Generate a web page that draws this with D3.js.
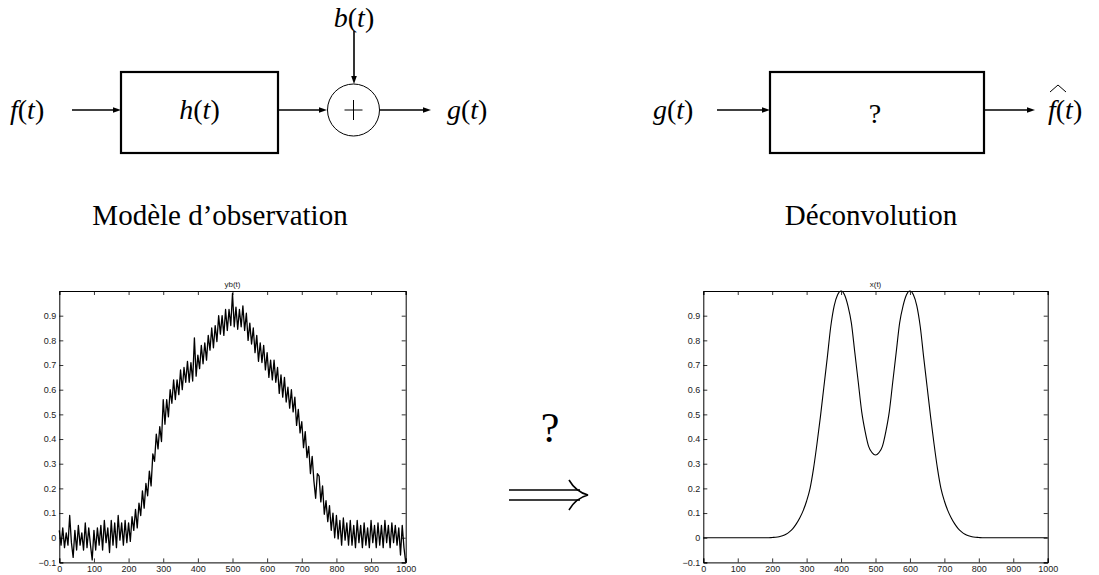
<!DOCTYPE html>
<html lang="fr">
<head>
<meta charset="UTF-8">
<title>Déconvolution</title>
<script src="https://d3js.org/d3.v7.min.js"></script>
<style>
  body { margin: 0; background: #fff; }
  .math { font-family: "Liberation Serif", "Times New Roman", serif; }
  .tick text { font-family: "Liberation Sans", Arial, sans-serif; font-size: 9px; fill: #222; }
</style>
</head>
<body>
<svg width="1099" height="575"></svg>
<script>
// ---------- data ----------
// noisy observation yb(t), one sample every 5 points of t (0..1000)
const ybStep = 5;
const ybValues = [
  0.03, -0.03, 0.04, -0.04, 0.02, -0.03, 0.09, -0.02, -0.08, 0.03,
  -0.05, 0.05, -0.03, 0.02, -0.05, 0.06, -0.04, 0.04, -0.03, -0.09,
  0.03, -0.05, 0.04, -0.03, 0.05, -0.05, 0.07, -0.02, 0.04, -0.06,
  0.07, -0.03, 0.06, -0.04, 0.09, -0.01, 0.06, -0.03, 0.07, -0.02,
  0.06, -0.015, 0.085, 0.03, 0.115, 0.04, 0.14, 0.09, 0.19, 0.12,
  0.22, 0.17, 0.27, 0.21, 0.34, 0.31, 0.42, 0.36, 0.45, 0.39,
  0.56, 0.46, 0.56, 0.49, 0.60, 0.545, 0.64, 0.56, 0.64, 0.58,
  0.68, 0.60, 0.69, 0.63, 0.715, 0.63, 0.71, 0.635, 0.81, 0.655,
  0.74, 0.685, 0.78, 0.705, 0.79, 0.72, 0.82, 0.76, 0.85, 0.77,
  0.86, 0.795, 0.90, 0.825, 0.90, 0.82, 0.925, 0.84, 0.925, 0.86,
  0.99, 0.855, 0.935, 0.845, 0.925, 0.855, 0.94, 0.84, 0.91, 0.80,
  0.87, 0.785, 0.85, 0.75, 0.82, 0.715, 0.79, 0.71, 0.78, 0.68,
  0.75, 0.65, 0.72, 0.64, 0.72, 0.63, 0.69, 0.585, 0.66, 0.57,
  0.65, 0.55, 0.61, 0.525, 0.60, 0.51, 0.57, 0.455, 0.52, 0.425,
  0.47, 0.365, 0.43, 0.325, 0.37, 0.26, 0.33, 0.23, 0.16, 0.26,
  0.25, 0.145, 0.21, 0.095, 0.15, 0.065, 0.13, 0.03, 0.10, 0.00,
  0.09, -0.005, 0.07, -0.03, 0.08, -0.01, 0.06, -0.03, 0.07, -0.03,
  0.05, -0.04, 0.07, -0.02, 0.05, -0.04, 0.06, -0.03, 0.04, -0.04,
  0.07, -0.02, 0.05, -0.04, 0.06, -0.03, 0.05, -0.04, 0.07, -0.02,
  0.05, -0.04, 0.06, -0.02, 0.05, -0.03, 0.04, -0.07, 0.05, -0.04,
  -0.10
];

// original signal x(t), one sample every 10 points of t
const xStep = 10;
const xValues = [
  0, 0, 0, 0, 0, 0, 0, 0, 0, 0,
  0, 0, 0, 0, 0, 0, 0, 0, 0, 0,
  0.001, 0.002, 0.004, 0.008, 0.014, 0.024, 0.037, 0.056, 0.080, 0.110,
  0.149, 0.200, 0.280, 0.380, 0.490, 0.610, 0.730, 0.855, 0.940, 0.985,
  1.000, 0.985, 0.940, 0.870, 0.750, 0.630, 0.510, 0.430, 0.370, 0.345,
  0.335, 0.345, 0.370, 0.430, 0.510, 0.630, 0.750, 0.870, 0.940, 0.985,
  1.000, 0.985, 0.940, 0.855, 0.730, 0.610, 0.490, 0.380, 0.280, 0.200,
  0.149, 0.110, 0.080, 0.056, 0.037, 0.024, 0.014, 0.008, 0.004, 0.002,
  0.001, 0, 0, 0, 0, 0, 0, 0, 0, 0,
  0, 0, 0, 0, 0, 0, 0, 0, 0, 0,
  0
];

const xTicks = [0, 100, 200, 300, 400, 500, 600, 700, 800, 900, 1000];
const yTicks = [-0.1, 0, 0.1, 0.2, 0.3, 0.4, 0.5, 0.6, 0.7, 0.8, 0.9];
const yDomain = [-0.1, 1.0];

// ---------- drawing ----------
const svg = d3.select("svg");

function arrow(x1, y1, x2, y2) {
  const a = Math.atan2(y2 - y1, x2 - x1), L = 8, W = 2.8;
  const bx = x2 - L * Math.cos(a), by = y2 - L * Math.sin(a);
  svg.append("line")
    .attr("x1", x1).attr("y1", y1).attr("x2", bx).attr("y2", by)
    .attr("stroke", "#000").attr("stroke-width", 1.6);
  svg.append("path")
    .attr("d", `M${x2},${y2}L${bx - W * Math.sin(a)},${by + W * Math.cos(a)}L${bx + W * Math.sin(a)},${by - W * Math.cos(a)}Z`)
    .attr("fill", "#000");
}

// math-ish label: italic letter + (t)
function fn(x, y, letter, anchor) {
  const t = svg.append("text").attr("class", "math")
    .attr("x", x).attr("y", y).attr("font-size", 28)
    .attr("text-anchor", anchor || "start");
  t.append("tspan").attr("font-style", "italic").text(letter);
  t.append("tspan").text("(");
  t.append("tspan").attr("font-style", "italic").text("t");
  t.append("tspan").text(")");
  return t;
}

function box(x, y, w, h) {
  svg.append("rect").attr("x", x).attr("y", y).attr("width", w).attr("height", h)
    .attr("fill", "none").attr("stroke", "#000").attr("stroke-width", 2.2);
}

// observation model
fn(10, 119, "f");
arrow(72, 110, 121, 110);
box(121, 72, 157, 81);
fn(199.5, 119, "h", "middle");
arrow(278, 110, 327, 110);
svg.append("circle").attr("cx", 353.5).attr("cy", 110).attr("r", 26)
  .attr("fill", "none").attr("stroke", "#000").attr("stroke-width", 1);
svg.append("path").attr("d", "M344.5,110H362.5M353.5,100V120")
  .attr("stroke", "#000").attr("stroke-width", 1).attr("fill", "none");
fn(354, 27, "b", "middle");
arrow(354, 31, 354, 84);
arrow(380, 110, 431, 110);
fn(447, 119, "g");
svg.append("text").attr("class", "math").attr("x", 220).attr("y", 225)
  .attr("font-size", 29).attr("text-anchor", "middle").text("Modèle d’observation");

// deconvolution
fn(653, 119, "g");
arrow(717, 110, 770, 110);
box(770, 72, 214, 81);
svg.append("text").attr("class", "math").attr("x", 875).attr("y", 123)
  .attr("font-size", 28).attr("text-anchor", "middle").text("?");
arrow(984, 110, 1035, 110);
fn(1048, 119, "f");
svg.append("path").attr("d", "M1050,92L1058,85L1066,92")
  .attr("fill", "none").attr("stroke", "#000").attr("stroke-width", 1);
svg.append("text").attr("class", "math").attr("x", 871).attr("y", 225)
  .attr("font-size", 29).attr("text-anchor", "middle").text("Déconvolution");

// middle question + implication arrow
svg.append("text").attr("class", "math").attr("x", 550).attr("y", 442)
  .attr("font-size", 42).attr("text-anchor", "middle").text("?");
svg.append("path").attr("d", "M509,490H580M509,500H580")
  .attr("stroke", "#000").attr("stroke-width", 1.5).attr("fill", "none");
svg.append("path").attr("d", "M569,480Q576,492 588,495Q576,498 569,510")
  .attr("stroke", "#000").attr("stroke-width", 1.6).attr("fill", "none");

// ---------- plots ----------
function plot(x0, x1, title, values, step, curve, lw) {
  const top = 291, bottom = 562.4;
  const x = d3.scaleLinear().domain([0, 1000]).range([x0, x1]);
  const y = d3.scaleLinear().domain(yDomain).range([bottom, top]);
  const g = svg.append("g");

  g.append("g").attr("transform", `translate(0,${bottom})`)
    .call(d3.axisBottom(x).tickValues(xTicks).tickSize(-4).tickPadding(3).tickFormat(d3.format("d")));
  g.append("g").attr("transform", `translate(0,${top})`)
    .call(d3.axisTop(x).tickValues(xTicks).tickSize(-4).tickFormat(""));
  g.append("g").attr("transform", `translate(${x0},0)`)
    .call(d3.axisLeft(y).tickValues(yTicks).tickSize(-4).tickPadding(3).tickFormat(d3.format(".1~f")));
  g.append("g").attr("transform", `translate(${x1},0)`)
    .call(d3.axisRight(y).tickValues(yTicks).tickSize(-4).tickFormat(""));
  g.selectAll(".domain").attr("stroke", "#000").attr("stroke-width", 1);
  g.selectAll(".tick line").attr("stroke", "#000").attr("stroke-width", 0.8);

  g.append("path").datum(values)
    .attr("fill", "none").attr("stroke", "#000").attr("stroke-width", lw)
    .attr("stroke-linejoin", "round")
    .attr("d", d3.line().x((d, i) => x(i * step)).y(d => y(d)).curve(curve));

  g.append("text").attr("x", (x0 + x1) / 2).attr("y", 287)
    .attr("text-anchor", "middle").attr("font-family", "Liberation Sans, Arial, sans-serif")
    .attr("font-size", 8).attr("fill", "#222").text(title);
}

plot(59.3, 405.7, "yb(t)", ybValues, ybStep, d3.curveLinear, 1.3);
plot(703.3, 1047.7, "x(t)", xValues, xStep, d3.curveMonotoneX, 1.1);
</script>
</body>
</html>
